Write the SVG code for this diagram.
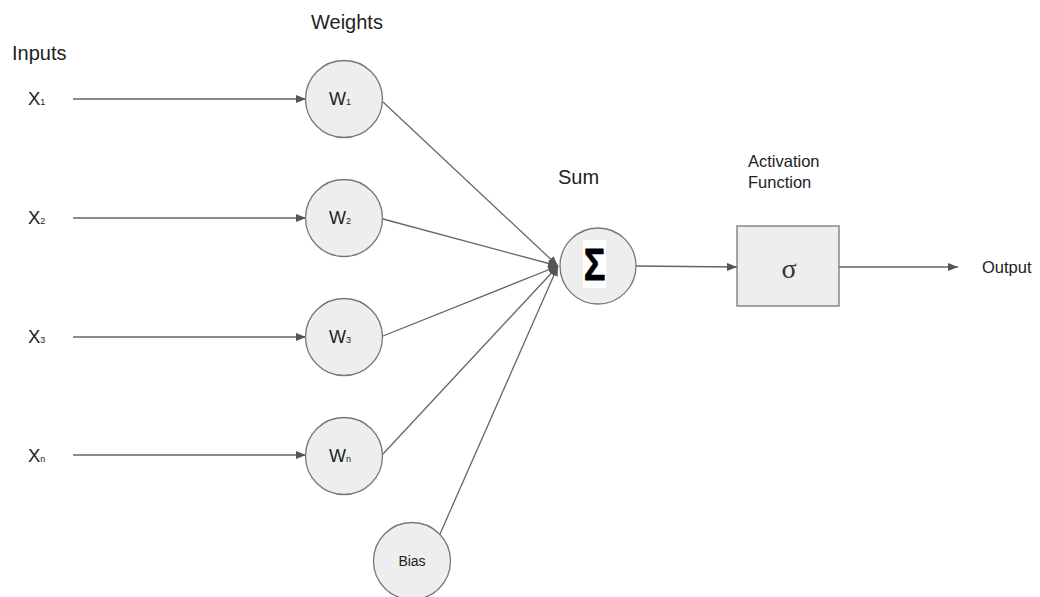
<svg xmlns="http://www.w3.org/2000/svg" width="1040" height="597" viewBox="0 0 1040 597">
<style>
.t{font-family:"Liberation Sans",Arial,sans-serif;fill:#222;}
.n{fill:#eeeeee;stroke:#777;stroke-width:1.3;}
.c{stroke:#666;stroke-width:1.3;fill:none;}
.s{font-size:9px;}
</style>
<defs>
<marker id="ah" markerWidth="10" markerHeight="8" refX="10" refY="4" orient="auto" markerUnits="userSpaceOnUse">
<path d="M0,0 L10,4 L0,8 Z" fill="#555"/>
</marker>
</defs>
<rect width="1040" height="597" fill="#fff"/>
<text class="t" x="12" y="60" font-size="20">Inputs</text>
<text class="t" x="311" y="29" font-size="20">Weights</text>
<text class="t" x="558" y="184" font-size="20">Sum</text>
<text class="t" x="748" y="167" font-size="16.5">Activation</text>
<text class="t" x="748" y="188" font-size="16.5">Function</text>
<text class="t" x="982" y="273" font-size="16.5">Output</text>
<g id="inputs">
<text class="t" x="28" y="105" font-size="18.5">X<tspan class="s">1</tspan></text>
<text class="t" x="28" y="224" font-size="18.5">X<tspan class="s">2</tspan></text>
<text class="t" x="28" y="343" font-size="18.5">X<tspan class="s">3</tspan></text>
<text class="t" x="28" y="462" font-size="18.5">X<tspan class="s">n</tspan></text>
</g>
<g id="connectors">
<line class="c" x1="73" y1="99" x2="306" y2="99" marker-end="url(#ah)"/>
<line class="c" x1="73" y1="218" x2="306" y2="218" marker-end="url(#ah)"/>
<line class="c" x1="73" y1="337" x2="306" y2="337" marker-end="url(#ah)"/>
<line class="c" x1="73" y1="455" x2="306" y2="455" marker-end="url(#ah)"/>
<line class="c" x1="383" y1="102" x2="558" y2="266" marker-end="url(#ah)"/>
<line class="c" x1="383" y1="219" x2="558" y2="266" marker-end="url(#ah)"/>
<line class="c" x1="383" y1="336" x2="558" y2="266" marker-end="url(#ah)"/>
<line class="c" x1="383" y1="454" x2="558" y2="266" marker-end="url(#ah)"/>
<line class="c" x1="440" y1="534" x2="558" y2="266" marker-end="url(#ah)"/>
<line class="c" x1="636" y1="266" x2="737" y2="267" marker-end="url(#ah)"/>
<line class="c" x1="839" y1="267" x2="958" y2="267" marker-end="url(#ah)"/>
</g>
<g id="w1"><circle class="n" cx="344" cy="99" r="38.5"/><text class="t" x="329" y="105" font-size="18">W<tspan class="s">1</tspan></text></g>
<g id="w2"><circle class="n" cx="344" cy="218" r="38.5"/><text class="t" x="329" y="224" font-size="18">W<tspan class="s">2</tspan></text></g>
<g id="w3"><circle class="n" cx="344" cy="337" r="38.5"/><text class="t" x="329" y="343" font-size="18">W<tspan class="s">3</tspan></text></g>
<g id="wn"><circle class="n" cx="344" cy="456" r="38.5"/><text class="t" x="329" y="462" font-size="18">W<tspan class="s">n</tspan></text></g>
<g id="bias"><circle class="n" cx="412" cy="561" r="38.5"/><text class="t" x="412" y="566" font-size="14" text-anchor="middle">Bias</text></g>
<g id="sum"><circle class="n" cx="598" cy="266" r="38"/><rect x="583" y="240" width="23" height="48" fill="#fff"/><text transform="translate(594.5 280) scale(0.82 1)" x="0" y="0" font-family="'Liberation Sans',Arial,sans-serif" font-size="44" font-weight="bold" text-anchor="middle" fill="#000" stroke="#000" stroke-width="0.8" stroke-linejoin="round">Σ</text></g>
<g id="activation"><rect class="n" x="737" y="226" width="102" height="80"/><text x="789" y="278" font-size="28" text-anchor="middle" font-family="'Liberation Serif',serif" fill="#333">σ</text></g>
</svg>
